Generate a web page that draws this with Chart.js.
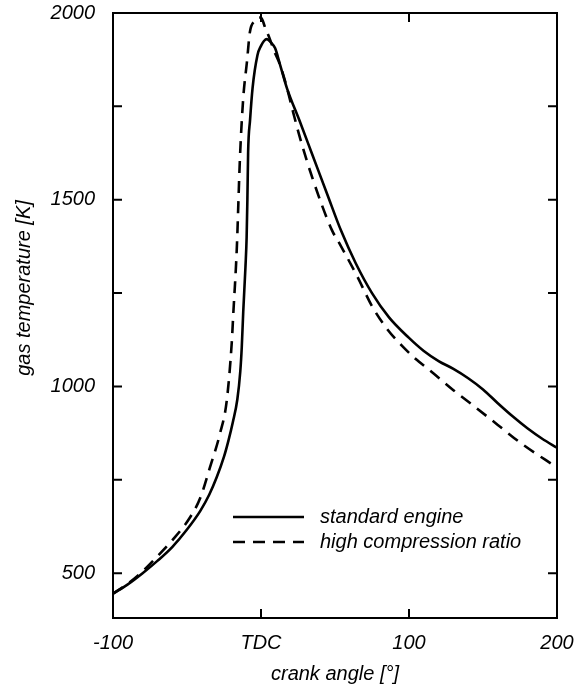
<!DOCTYPE html>
<html>
<head>
<meta charset="utf-8">
<script src="https://cdn.jsdelivr.net/npm/chart.js@4.4.1/dist/chart.umd.min.js"></script>
<style>
  html, body { margin: 0; padding: 0; background: #fff; }
  #wrap { width: 579px; height: 688px; position: relative; }
</style>
</head>
<body>
<div id="wrap"><canvas id="temp-chart"></canvas></div>
<script>
// standard engine (solid)
const stdAngle = [-100, -90, -80, -70, -60, -50, -41, -35, -30, -25, -22, -19, -16, -14, -13, -12, -10.5, -9.7, -9.2, -8.7, -7.4, -5.7, -2.4, 0, 2, 4, 6.5, 9.5, 13, 17.5, 26, 34, 45, 54, 64, 75, 86.5, 100, 110, 120, 130, 140, 150, 160, 170, 180, 190, 200];
const stdTemp = [445, 470, 500, 533, 570, 617, 667, 710, 756, 812, 855, 905, 965, 1040, 1105, 1200, 1320, 1400, 1500, 1627, 1713, 1799, 1887, 1912, 1925, 1930, 1922, 1906, 1860, 1799, 1712, 1628, 1512, 1418, 1330, 1250, 1185, 1130, 1095, 1068, 1047, 1022, 992, 955, 920, 888, 860, 836];

// high compression ratio (dashed)
const hcrAngle = [-100, -90, -80, -70, -60, -48, -41, -34.5, -27.7, -23.2, -19.8, -18.7, -16.4, -14.2, -12, -9.5, -7.5, -4.5, -2, 0, 2.7, 6, 9, 13, 17.5, 22, 26.4, 35, 48, 53, 65, 75, 85, 95, 105, 115, 130, 145, 160, 176, 200];
const hcrTemp = [445, 472, 505, 545, 588, 649, 702, 783, 874, 960, 1115, 1196, 1365, 1614, 1772, 1869, 1949, 1978, 1988, 1988, 1962, 1930, 1897, 1860, 1800, 1730, 1665, 1555, 1418, 1383, 1295, 1215, 1155, 1110, 1072, 1040, 990, 944, 897, 847, 783];

const seriesLabels = ['standard engine', 'high compression ratio'];
const xTickValues = [-100, 0, 100, 200];
const xTickLabels = ['-100', 'TDC', '100', '200'];
const yTickValues = [500, 1000, 1500, 2000];
const yTickLabels = ['500', '1000', '1500', '2000'];
const yMinorTicks = [750, 1250, 1750];
const xTitle = 'crank angle [°]';
const yTitle = 'gas temperature [K]';

const FONT = 'italic 20px "Liberation Sans", Arial, sans-serif';

const toPoints = (xs, ys) => xs.map((v, i) => ({ x: v, y: ys[i] }));

// frame, inward ticks, y title and legend
const framePlugin = {
  id: 'frame',
  afterDatasetsDraw(chart) {
    const { ctx, chartArea: a, scales: { x, y } } = chart;
    ctx.save();
    ctx.strokeStyle = '#000';
    ctx.lineWidth = 2;
    ctx.strokeRect(a.left, a.top, a.right - a.left, a.bottom - a.top);

    const tick = 9;
    ctx.beginPath();
    [...yTickValues, ...yMinorTicks].forEach(v => {
      const py = y.getPixelForValue(v);
      ctx.moveTo(a.left, py); ctx.lineTo(a.left + tick, py);
      ctx.moveTo(a.right, py); ctx.lineTo(a.right - tick, py);
    });
    xTickValues.forEach(v => {
      const px = x.getPixelForValue(v);
      ctx.moveTo(px, a.bottom); ctx.lineTo(px, a.bottom - tick);
      ctx.moveTo(px, a.top); ctx.lineTo(px, a.top + tick);
    });
    ctx.stroke();

    // y axis title
    ctx.fillStyle = '#000';
    ctx.font = FONT;
    ctx.textAlign = 'center';
    ctx.textBaseline = 'middle';
    ctx.save();
    ctx.translate(24, 288);
    ctx.rotate(-Math.PI / 2);
    ctx.fillText(yTitle, 0, 0);
    ctx.restore();

    // legend
    ctx.textAlign = 'left';
    chart.data.datasets.forEach((ds, i) => {
      const ly = 517 + i * 25;
      ctx.beginPath();
      ctx.lineWidth = ds.borderWidth;
      ctx.setLineDash(ds.borderDash || []);
      ctx.moveTo(233, ly);
      ctx.lineTo(304, ly);
      ctx.stroke();
      ctx.setLineDash([]);
      ctx.fillText(ds.label, 320, ly);
    });
    ctx.restore();
  }
};

const ctx = document.getElementById('temp-chart').getContext('2d');
new Chart(ctx, {
  type: 'line',
  data: {
    datasets: [
      {
        label: seriesLabels[0],
        data: toPoints(stdAngle, stdTemp),
        borderColor: '#000',
        borderWidth: 2.6,
        pointRadius: 0,
        cubicInterpolationMode: 'monotone'
      },
      {
        label: seriesLabels[1],
        data: toPoints(hcrAngle, hcrTemp),
        borderColor: '#000',
        borderWidth: 2.6,
        borderDash: [12, 8],
        pointRadius: 0,
        cubicInterpolationMode: 'monotone'
      }
    ]
  },
  options: {
    responsive: true,
    maintainAspectRatio: false,
    animation: false,
    layout: { padding: { top: 13, right: 22, left: 0, bottom: 0 } },
    plugins: {
      legend: { display: false },
      tooltip: { enabled: false }
    },
    scales: {
      x: {
        type: 'linear',
        min: -100,
        max: 200,
        afterBuildTicks: (scale) => { scale.ticks = xTickValues.map(v => ({ value: v })); },
        afterFit: (scale) => { scale.height = 70; scale.paddingLeft = 0; scale.paddingRight = 0; },
        grid: { display: false, drawTicks: false },
        border: { display: false },
        ticks: {
          color: '#000',
          padding: 13,
          maxRotation: 0,
          font: { family: '"Liberation Sans", Arial, sans-serif', size: 20, style: 'italic' },
          callback: (v) => xTickLabels[xTickValues.indexOf(v)]
        },
        title: {
          display: true,
          text: xTitle,
          color: '#000',
          padding: { top: 0, bottom: 2 },
          font: { family: '"Liberation Sans", Arial, sans-serif', size: 20, style: 'italic' }
        }
      },
      y: {
        type: 'linear',
        min: 380,
        max: 2000,
        afterBuildTicks: (scale) => { scale.ticks = yTickValues.map(v => ({ value: v })); },
        afterFit: (scale) => { scale.width = 113; scale.paddingTop = 0; scale.paddingBottom = 0; },
        grid: { display: false, drawTicks: false },
        border: { display: false },
        ticks: {
          color: '#000',
          padding: 18,
          font: { family: '"Liberation Sans", Arial, sans-serif', size: 20, style: 'italic' },
          callback: (v) => yTickLabels[yTickValues.indexOf(v)]
        }
      }
    }
  },
  plugins: [framePlugin]
});
</script>
</body>
</html>
